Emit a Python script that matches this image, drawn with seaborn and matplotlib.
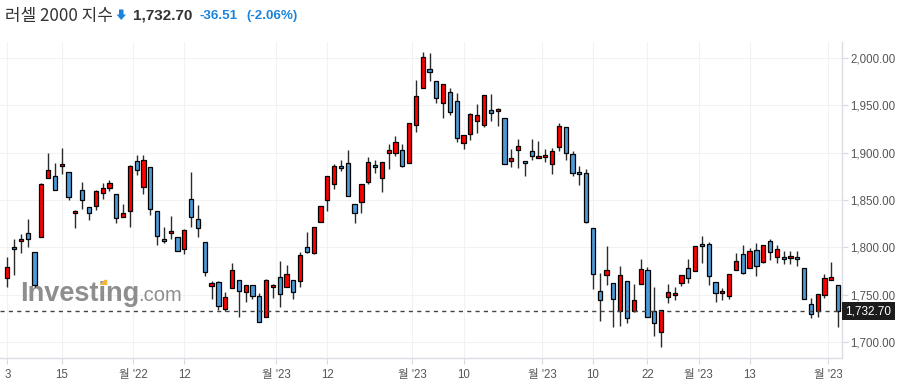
import numpy as np
import seaborn as sns
import matplotlib.pyplot as plt
from matplotlib.patches import Polygon
from matplotlib.transforms import Bbox, TransformedBbox, blended_transform_factory

# ==========================================
# DATA (daily candles)
# ==========================================
opens = [1767.7, 1800.4, 1806.4, 1814.8, 1795.1, 1810.6, 1872.9, 1875.0, 1885.6, 1879.3,
         1835.9, 1860.2, 1842.3, 1843.7, 1857.1, 1862.4, 1856.0, 1831.7, 1838.1, 1891.2,
         1863.4, 1884.5, 1838.1, 1808.8, 1814.8, 1810.6, 1797.9, 1850.7, 1829.6, 1805.3,
         1759.2, 1763.1, 1734.6, 1756.7, 1765.2, 1752.5, 1759.9, 1748.3, 1726.1, 1757.8,
         1768.3, 1757.8, 1765.2, 1764.1, 1800.0, 1793.7, 1826.4, 1849.7, 1866.6, 1885.6,
         1888.8, 1845.5, 1847.6, 1868.7, 1886.6, 1872.9, 1899.3, 1899.3, 1902.5, 1888.8,
         1928.9, 1968.0, 1988.0, 1975.4, 1952.1, 1963.7, 1954.2, 1909.9, 1919.4, 1933.1,
         1928.9, 1944.7, 1943.7, 1936.3, 1890.9, 1902.5, 1890.9, 1901.4, 1894.0, 1895.1,
         1887.7, 1905.7, 1926.8, 1898.3, 1879.3, 1878.2, 1820.1, 1753.6, 1770.5, 1762.0,
         1732.5, 1764.1, 1732.5, 1761.0, 1775.8, 1732.5, 1710.3, 1747.2, 1749.3, 1762.0,
         1777.9, 1774.7, 1803.2, 1803.2, 1763.1, 1751.5, 1748.3, 1775.8, 1792.6, 1777.9,
         1796.9, 1784.2, 1806.4, 1789.5, 1789.5, 1788.4, 1789.5, 1777.9, 1739.8, 1732.5,
         1749.3, 1765.2, 1759.9]
highs = [1790.2, 1808.5, 1813.8, 1829.6, 1795.5, 1867.6, 1899.3, 1888.8, 1904.6, 1879.3,
         1839.5, 1868.7, 1842.3, 1860.6, 1867.6, 1871.2, 1856.0, 1845.5, 1887.0, 1897.6,
         1897.6, 1884.5, 1838.1, 1821.2, 1832.8, 1810.6, 1819.1, 1879.3, 1844.4, 1805.3,
         1764.1, 1764.1, 1753.2, 1783.1, 1765.2, 1759.9, 1759.9, 1751.8, 1766.3, 1761.0,
         1785.2, 1781.0, 1765.2, 1794.8, 1815.9, 1821.2, 1843.3, 1875.0, 1887.7, 1891.9,
         1902.5, 1845.5, 1866.6, 1895.1, 1891.9, 1889.8, 1908.8, 1917.3, 1908.8, 1931.0,
         1976.4, 2006.0, 2004.9, 1975.4, 1972.2, 1968.0, 1962.7, 1918.3, 1941.6, 1951.1,
         1960.6, 1961.6, 1946.8, 1936.3, 1903.5, 1914.1, 1890.9, 1914.1, 1912.0, 1903.5,
         1904.6, 1931.0, 1926.8, 1901.4, 1885.6, 1882.4, 1820.1, 1772.6, 1801.1, 1762.0,
         1780.0, 1764.1, 1761.0, 1787.4, 1778.9, 1757.8, 1733.5, 1761.0, 1757.8, 1770.5,
         1787.4, 1801.1, 1811.7, 1805.3, 1763.1, 1756.7, 1771.5, 1793.7, 1802.1, 1799.0,
         1804.3, 1802.1, 1808.5, 1802.1, 1795.8, 1795.8, 1795.8, 1777.9, 1746.2, 1750.4,
         1771.5, 1784.2, 1759.9]
lows = [1758.5, 1770.8, 1793.7, 1800.8, 1757.8, 1810.6, 1872.9, 1860.2, 1877.1, 1850.0,
        1820.1, 1840.2, 1828.9, 1839.5, 1850.7, 1859.9, 1826.1, 1831.7, 1821.2, 1876.1,
        1856.0, 1834.2, 1802.2, 1804.3, 1808.8, 1795.8, 1792.6, 1821.9, 1811.3, 1769.8,
        1745.1, 1733.9, 1733.2, 1756.7, 1726.1, 1742.7, 1745.1, 1720.8, 1726.1, 1746.2,
        1736.7, 1757.8, 1745.1, 1757.8, 1793.7, 1792.6, 1826.4, 1838.1, 1861.3, 1880.3,
        1853.9, 1825.4, 1835.9, 1866.6, 1878.2, 1858.1, 1882.4, 1896.1, 1884.5, 1888.8,
        1921.5, 1968.0, 1975.4, 1952.1, 1936.3, 1939.4, 1911.6, 1903.5, 1913.0, 1920.4,
        1926.8, 1933.1, 1927.8, 1887.7, 1884.5, 1883.5, 1875.0, 1891.9, 1894.0, 1889.8,
        1877.1, 1901.4, 1891.9, 1875.0, 1865.5, 1825.4, 1755.7, 1721.9, 1759.9, 1715.6,
        1716.6, 1719.8, 1731.4, 1761.0, 1726.1, 1706.1, 1694.4, 1740.9, 1744.1, 1758.9,
        1762.0, 1774.7, 1783.1, 1759.9, 1742.0, 1744.1, 1745.1, 1775.8, 1771.5, 1777.9,
        1769.4, 1783.1, 1786.3, 1783.1, 1782.1, 1782.1, 1780.0, 1745.1, 1725.1, 1726.1,
        1746.2, 1765.2, 1715.5]
closes = [1778.9, 1797.9, 1808.8, 1808.5, 1760.2, 1866.6, 1881.4, 1860.2, 1888.0, 1852.9,
          1838.4, 1849.7, 1835.9, 1859.5, 1862.4, 1867.6, 1830.7, 1835.9, 1885.6, 1881.4,
          1891.9, 1840.2, 1811.7, 1806.4, 1817.3, 1795.8, 1818.4, 1831.7, 1820.1, 1773.6,
          1762.0, 1738.1, 1747.2, 1775.8, 1753.6, 1759.9, 1748.3, 1720.8, 1765.2, 1759.9,
          1750.4, 1771.5, 1752.5, 1791.6, 1794.8, 1821.2, 1843.3, 1875.0, 1885.6, 1883.5,
          1853.9, 1835.9, 1866.6, 1889.8, 1884.5, 1889.8, 1902.5, 1910.9, 1885.6, 1931.0,
          1959.5, 2000.7, 1984.9, 1957.4, 1972.2, 1942.6, 1915.2, 1918.3, 1940.5, 1939.4,
          1960.6, 1941.6, 1945.8, 1887.7, 1894.0, 1906.7, 1888.8, 1896.2, 1896.2, 1897.2,
          1901.4, 1927.8, 1899.3, 1878.2, 1877.1, 1826.4, 1771.5, 1744.1, 1775.8, 1745.1,
          1770.5, 1725.1, 1744.1, 1776.8, 1726.1, 1719.8, 1733.5, 1752.5, 1751.5, 1770.5,
          1767.3, 1801.1, 1801.1, 1769.4, 1751.5, 1753.6, 1771.5, 1785.2, 1772.6, 1795.8,
          1780.0, 1802.1, 1794.8, 1797.9, 1787.4, 1790.5, 1787.4, 1745.1, 1729.3, 1750.4,
          1767.3, 1768.3, 1732.70]

# x-axis ticks (candle index; month ticks sit between candles)
tick_pos = [0, 8, 18.5, 26, 39.5, 47, 59.5, 67, 78.5, 86, 94, 101.5, 109, 120.5]
tick_labels = ["3", "15", "월 '22", "12", "월 '23", "12", "월 '23", "10",
               "월 '23", "10", "22", "월 '23", "13", "월 '23"]
y_ticks = [1700, 1750, 1800, 1850, 1900, 1950, 2000]

TITLE = "러셀 2000 지수"
CHANGE = -36.51
CHANGE_PCT = -2.06

UP_COLOR = "#ff0000"
DOWN_COLOR = "#4d9ad6"
CHANGE_COLOR = "#1a84dc"

# ==========================================

W, H = 903, 385


def px(x_px, y_px):
    """pixel position (from top-left) -> figure fraction"""
    return x_px / W, 1 - y_px / H


sns.set_theme(style="white")
plt.rcParams['font.family'] = ['Liberation Sans', 'Noto Sans CJK KR', 'DejaVu Sans']

fig = plt.figure(figsize=(W / 100, H / 100), dpi=100)
ax = fig.add_axes([0, (H - 358) / H, 842 / W, (358 - 42) / H])

x = np.arange(len(closes))
o = np.array(opens)
c = np.array(closes)
hi = np.array(highs)
lo = np.array(lows)
up = c >= o
colors = np.where(up, UP_COLOR, DOWN_COLOR)
bottom = np.minimum(o, c)
height = np.maximum(np.abs(c - o), 1.2)

# wicks then bodies
ax.vlines(x, lo, hi, color="#2b2b2b", linewidth=1.0, zorder=2)
ax.bar(x, height, bottom=bottom, width=0.62, color=colors,
       edgecolor="black", linewidth=0.9, zorder=3)

# last price dashed line
last = closes[-1]
ax.axhline(last, color="#444444", linewidth=1.0, dashes=(3, 3), zorder=4)

ax.set_xlim(-1.07, 122.57)
ax.set_ylim(1683.1, 2016.9)

# axes styling
ax.yaxis.tick_right()
ax.set_yticks(y_ticks)
ax.set_yticklabels([f"{v:,.2f}" for v in y_ticks])
ax.set_xticks(tick_pos)
ax.set_xticklabels(tick_labels)
ax.tick_params(axis="y", which="both", right=True, length=4, width=0.8,
               color="#d8d8e0", labelsize=8.3, labelcolor="#555555", pad=2)
ax.tick_params(axis="x", which="both", bottom=True, length=4, width=0.8,
               color="#d8d8e0", labelsize=8.3, labelcolor="#555555", pad=4)
ax.grid(True, color="#f2f2f2", linewidth=0.8, zorder=0)
ax.set_axisbelow(True)
for side in ["top", "left"]:
    ax.spines[side].set_visible(False)
for side in ["right", "bottom"]:
    ax.spines[side].set_color("#dcdce4")
    ax.spines[side].set_linewidth(1.0)

# price tag on the right axis
trans = blended_transform_factory(ax.transAxes, ax.transData)
ax.text(1.004, last, f"{last:,.2f}", transform=trans, ha="left", va="center",
        fontsize=8.5, color="white", clip_on=False, zorder=6,
        bbox=dict(boxstyle="square,pad=0.28", fc="#1c1c1c", ec="none"))

# watermark
ax.text(20 / 842, (358 - 301) / 316, "Investing", transform=ax.transAxes,
        fontsize=19.5, fontweight="bold", color="#8e8e8e", ha="left",
        va="baseline", zorder=1)
ax.text(138 / 842, (358 - 301) / 316, ".com", transform=ax.transAxes,
        fontsize=14.5, color="#8e8e8e", ha="left", va="baseline", zorder=1)
acc = [(99.5, 285), (104.5, 279.8), (107.2, 279.8), (107.2, 285)]
fig.patches.append(Polygon([px(a, b) for a, b in acc], closed=True,
                           transform=fig.transFigure, fc="#f5b340", ec="none",
                           zorder=1))

# header
ty = 1 - 16 / H
fig.text(5 / W, ty, TITLE, fontsize=12.2, color="#333333", va="center",
         family=["Noto Sans CJK KR", "DejaVu Sans"])
# solid down arrow icon
arrow = [(119.0, 9.5), (123.5, 9.5), (123.5, 14.5), (126.0, 14.5),
         (121.25, 20.0), (116.5, 14.5), (119.0, 14.5)]
fig.patches.append(Polygon([px(a, b) for a, b in arrow], closed=True,
                           transform=fig.transFigure, fc=CHANGE_COLOR,
                           ec="none"))
fig.text(133 / W, ty, f"{last:,.2f}", fontsize=11, fontweight="bold",
         color="#333333", va="center")
fig.text(200 / W, ty, f"{CHANGE:.2f}", fontsize=9.6, fontweight="bold",
         color=CHANGE_COLOR, va="center")
fig.text(246 / W, ty, f"({CHANGE_PCT:.2f}%)", fontsize=9.6, fontweight="bold",
         color=CHANGE_COLOR, va="center")

# clip x tick labels at the right edge of the plot (like the reference)
fig.canvas.draw()
clip = TransformedBbox(Bbox([[0, 0], [842 / W, 1]]), fig.transFigure)
for lab in ax.get_xticklabels():
    lab.set_clip_on(True)
    lab.set_clip_box(clip)

fig.savefig("out.png", dpi=100)
